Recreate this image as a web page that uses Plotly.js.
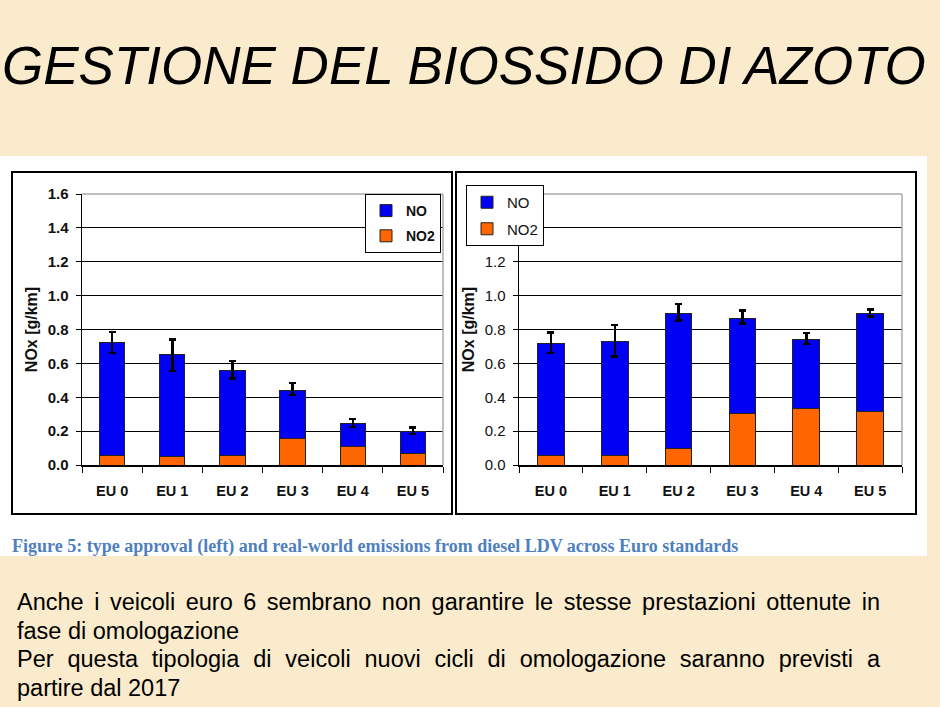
<!DOCTYPE html>
<html>
<head>
<meta charset="utf-8">
<script src="https://cdn.plot.ly/plotly-3.0.1.min.js"></script>
<style>
  html, body { margin:0; padding:0; width:940px; height:707px; overflow:hidden; background:#F9EBCC; }
  #chart { position:absolute; left:0; top:0; width:940px; height:707px; }
  #body {
    position:absolute; left:17px; top:588px; width:863px;
    font-family:"Liberation Sans", Arial, sans-serif; font-size:23.5px; line-height:28.6px;
    color:#000;
  }
  #body .j { display:block; text-align:justify; text-align-last:justify; white-space:normal; }
  #body .l { display:block; text-align:left; }
</style>
</head>
<body>
<div id="chart"></div>
<div id="body">
  <span class="j">Anche i veicoli euro 6 sembrano non garantire le stesse prestazioni ottenute in</span>
  <span class="l">fase di omologazione</span>
  <span class="j">Per questa tipologia di veicoli nuovi cicli di omologazione saranno previsti a</span>
  <span class="l">partire dal 2017</span>
</div>
<script>
// ---------------- DATA ----------------
const categories = ["EU 0", "EU 1", "EU 2", "EU 3", "EU 4", "EU 5"];
const yTickVals = [0, 0.2, 0.4, 0.6, 0.8, 1.0, 1.2, 1.4, 1.6];

// Left: type approval
const taNO2 = [0.057, 0.051, 0.057, 0.158, 0.111, 0.065];
const taNO  = [0.668, 0.600, 0.501, 0.284, 0.133, 0.133];
const taErrPlus  = [0.061, 0.089, 0.056, 0.041, 0.029, 0.022];
const taErrMinus = [0.064, 0.095, 0.047, 0.030, 0.020, 0.014];

// Right: real-world
const rwNO2 = [0.057, 0.057, 0.099, 0.303, 0.335, 0.315];
const rwNO  = [0.662, 0.674, 0.796, 0.564, 0.408, 0.580];
const rwErrPlus  = [0.063, 0.097, 0.055, 0.044, 0.037, 0.022];
const rwErrMinus = [0.058, 0.089, 0.043, 0.033, 0.028, 0.018];

const seriesNames = ["NO", "NO2"];
const titleText = "GESTIONE DEL BIOSSIDO DI AZOTO";
const captionText = "Figure 5: type approval (left) and real-world emissions from diesel LDV across Euro standards";
const yTitleText = "NOx [g/km]";

// ---------------- STYLE ----------------
const W = 940, H = 707;
const px = v => v / W;
const py = v => 1 - v / H;
const FONT = '"Liberation Sans", Arial, sans-serif';
const BLUE = '#0000F5', ORANGE = '#FF6600', OUTLINE = '#222222';

function errY(plus, minus) {
  return { type:'data', symmetric:false, array:plus, arrayminus:minus,
           color:'#000', thickness:2.5, width:3.5 };
}

const traces = [
  { type:'bar', name:seriesNames[1], x:categories, y:taNO2, xaxis:'x', yaxis:'y',
    marker:{color:ORANGE, line:{color:OUTLINE, width:1}}, legend:'legend',
    legendgroup:'l2', legendrank:2 },
  { type:'bar', name:seriesNames[0], x:categories, y:taNO, xaxis:'x', yaxis:'y',
    marker:{color:BLUE, line:{color:OUTLINE, width:1}}, legend:'legend',
    legendgroup:'l1', legendrank:1, error_y:errY(taErrPlus, taErrMinus) },
  { type:'bar', name:seriesNames[1], x:categories, y:rwNO2, xaxis:'x2', yaxis:'y2',
    marker:{color:ORANGE, line:{color:OUTLINE, width:1}}, legend:'legend2',
    legendgroup:'r2', legendrank:2 },
  { type:'bar', name:seriesNames[0], x:categories, y:rwNO, xaxis:'x2', yaxis:'y2',
    marker:{color:BLUE, line:{color:OUTLINE, width:1}}, legend:'legend2',
    legendgroup:'r1', legendrank:1, error_y:errY(rwErrPlus, rwErrMinus) }
];

const yDomain = [py(465), py(194)];

function xAxis(domain, anchor) {
  return {
    domain:domain, anchor:anchor, type:'category',
    tickson:'boundaries', ticks:'outside', ticklen:6, tickwidth:1, tickcolor:'#000',
    showline:true, linecolor:'#000', linewidth:1.5, showgrid:false,
    tickfont:{family:FONT, size:14.5, color:'#111', weight:'bold'},
    ticklabelstandoff:12, fixedrange:true
  };
}
function yAxis(anchor, bold) {
  return {
    domain:yDomain, anchor:anchor, range:[0, 1.6], tickvals:yTickVals, tickformat:'.1f',
    ticks:'outside', ticklen:5, tickwidth:1, tickcolor:'#000',
    showline:true, linecolor:'#000', linewidth:1.5,
    showgrid:true, gridcolor:'#000', gridwidth:1, zeroline:false,
    tickfont:{family:FONT, size:15, color:'#111', weight: bold ? 'bold' : 'normal'},
    ticklabelstandoff:4,
    title:{text:yTitleText, standoff:6, font:{family:FONT, size:16, color:'#111', weight:'bold'}},
    fixedrange:true
  };
}

const border = (xr, yr) => ([
  { type:'line', xref:xr+' domain', yref:yr+' domain', x0:0, x1:1, y0:1, y1:1,
    line:{color:'#A8A8A8', width:1.5}, layer:'above' },
  { type:'line', xref:xr+' domain', yref:yr+' domain', x0:1, x1:1, y0:0, y1:1,
    line:{color:'#A8A8A8', width:1.5}, layer:'above' }
]);

const layout = {
  width:W, height:H, margin:{l:0, r:0, t:0, b:0},
  paper_bgcolor:'rgba(0,0,0,0)', plot_bgcolor:'rgba(0,0,0,0)',
  barmode:'stack', bargap:0.58, showlegend:true,
  font:{family:FONT, color:'#000'},
  title:{text:titleText, x:px(2), xanchor:'left', y:py(65), yanchor:'middle',
         font:{family:FONT, size:53, style:'italic', color:'#000'}},
  xaxis:xAxis([px(82), px(443)], 'y'),
  yaxis:yAxis('x', true),
  xaxis2:xAxis([px(519), px(902)], 'y2'),
  yaxis2:yAxis('x2', false),
  legend:{x:px(441), xanchor:'right', y:py(194), yanchor:'top',
          bgcolor:'#fff', bordercolor:'#000', borderwidth:1,
          traceorder:'grouped', tracegroupgap:4, itemwidth:30,
          font:{family:FONT, size:14, color:'#111', weight:'bold'}},
  legend2:{x:px(466), xanchor:'left', y:py(185), yanchor:'top',
          bgcolor:'#fff', bordercolor:'#000', borderwidth:1,
          traceorder:'grouped', tracegroupgap:4, itemwidth:30,
          font:{family:FONT, size:15, color:'#111'}},
  shapes:[
    { type:'rect', xref:'paper', yref:'paper', x0:px(0), x1:px(927), y0:py(556), y1:py(156),
      fillcolor:'#fff', line:{width:0}, layer:'below' },
    { type:'rect', xref:'paper', yref:'paper', x0:px(12), x1:px(452), y0:py(514), y1:py(172),
      fillcolor:'rgba(0,0,0,0)', line:{color:'#000', width:2}, layer:'below' },
    { type:'rect', xref:'paper', yref:'paper', x0:px(456), x1:px(916), y0:py(514), y1:py(172),
      fillcolor:'rgba(0,0,0,0)', line:{color:'#000', width:2}, layer:'below' },
    ...border('x', 'y'),
    ...border('x2', 'y2')
  ],
  annotations:[
    { text:captionText, xref:'paper', yref:'paper', x:px(10), xanchor:'left',
      y:py(546), yanchor:'middle', showarrow:false,
      font:{family:'"Liberation Serif", "Times New Roman", serif', size:18, color:'#4F7FBE', weight:'bold'} }
  ]
};

Plotly.newPlot('chart', traces, layout, {displayModeBar:false, staticPlot:true});
</script>
</body>
</html>
